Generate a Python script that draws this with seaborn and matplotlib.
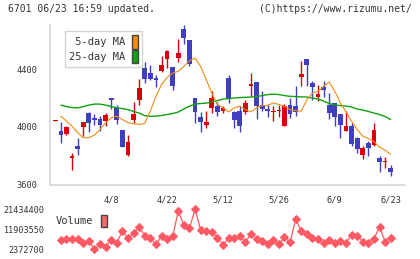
import numpy as np
import pandas as pd
import seaborn as sns
import matplotlib.pyplot as plt
from matplotlib.patches import Patch

# daily candles (first one has no volume / MA)
opens = [4040, 3974, 3947, 3781, 3864, 3997, 4097, 4062, 4055, 4039,
         4200, 4131, 3979, 3804, 4046, 4183, 4407, 4372, 4335, 4383,
         4466, 4416, 4473, 4678, 4602, 4202, 4071, 4014, 4128, 4142,
         4108, 4338, 4103, 4112, 4103, 4280, 4310, 4154, 4126, 4103,
         4108, 4004, 4154, 4147, 4342, 4471, 4303, 4204, 4273, 4154,
         4166, 4085, 3974, 4002, 3919, 3804, 3885, 3873, 3781, 3756, 3712]
highs = [4050, 4034, 4004, 3818, 3919, 4032, 4103, 4090, 4078, 4094,
         4200, 4154, 3979, 3940, 4172, 4331, 4448, 4428, 4361, 4492,
         4533, 4416, 4609, 4706, 4602, 4202, 4101, 4112, 4246, 4172,
         4142, 4361, 4110, 4142, 4188, 4375, 4310, 4250, 4161, 4142,
         4154, 4161, 4200, 4280, 4457, 4471, 4319, 4292, 4319, 4237,
         4166, 4085, 4112, 4028, 3928, 3866, 3901, 4023, 3797, 3790, 3735]
lows = [4040, 3885, 3940, 3701, 3804, 3935, 3963, 4014, 3974, 4007,
        4126, 4016, 3862, 3797, 4028, 4154, 4303, 4326, 4273, 4376,
        4407, 4257, 4448, 4572, 4418, 4023, 3963, 3990, 4094, 4073,
        4094, 4166, 3990, 3963, 4090, 4216, 4055, 4112, 4066, 4039,
        4066, 4004, 4062, 4073, 4280, 4280, 4183, 4177, 4204, 4057,
        4004, 3919, 3970, 3866, 3821, 3774, 3795, 3866, 3687, 3712, 3657]
closes = [4050, 3942, 3995, 3795, 3845, 4032, 4025, 4046, 4011, 4083,
          4183, 4046, 3862, 3897, 4087, 4269, 4331, 4331, 4324, 4430,
          4526, 4285, 4510, 4618, 4437, 4101, 4032, 4032, 4202, 4101,
          4131, 4195, 4046, 4004, 4166, 4299, 4142, 4124, 4108, 4112,
          4119, 4147, 4090, 4103, 4366, 4430, 4273, 4230, 4252, 4094,
          4066, 4011, 4002, 3878, 3843, 3855, 3855, 3981, 3756, 3763, 3687]

ma5 = [4073, 4039, 4004, 3959, 3924, 3924, 3942, 3981, 4028, 4062,
       4073, 4050, 4028, 4021, 4016, 4023, 4108, 4211, 4292, 4342,
       4372, 4384, 4418, 4457, 4476, 4418, 4326, 4234, 4154, 4131,
       4103, 4131, 4142, 4119, 4103, 4131, 4147, 4147, 4166, 4154,
       4142, 4119, 4112, 4108, 4188, 4234, 4246, 4280, 4310, 4246,
       4166, 4103, 4039, 3981, 3935, 3919, 3897, 3859, 3837, 3809]
ma25 = [4150, 4140, 4133, 4131, 4140, 4150, 4157, 4157, 4150, 4140,
        4131, 4126, 4119, 4106, 4095, 4077, 4073, 4073, 4078, 4085,
        4092, 4102, 4123, 4143, 4157, 4161, 4164, 4172, 4181, 4192,
        4195, 4200, 4202, 4204, 4206, 4209, 4216, 4223, 4226, 4223,
        4216, 4211, 4209, 4207, 4206, 4199, 4192, 4178, 4161, 4150,
        4147, 4143, 4137, 4123, 4116, 4106, 4095, 4085, 4071, 4050]
volume = [6.80, 7.28, 7.28, 7.14, 5.23, 6.33, 2.3727, 4.76, 3.61, 6.80,
          5.52, 11.09, 7.61, 10.00, 12.86, 8.85, 7.61, 4.76, 8.57, 7.28,
          8.57, 20.62, 13.95, 12.38, 21.4344, 11.57, 11.09, 10.47, 7.90, 4.42,
          7.61, 7.61, 8.57, 5.99, 9.52, 7.28, 6.33, 4.76, 6.80, 4.76,
          8.09, 5.71, 16.81, 11.09, 9.52, 7.61, 7.14, 5.23, 6.80, 5.23,
          6.47, 5.52, 9.19, 8.85, 5.99, 5.23, 7.28, 13.14, 5.99, 7.61]
volume = [v * 1e6 for v in volume]

date_labels = ["4/8", "4/22", "5/12", "5/26", "6/9", "6/23"]
date_pos = [10, 20, 30, 40, 50, 60]
price_ticks = [3600, 4000, 4400]
vol_ticks = [2372700, 11903550, 21434400]

RED = "#d8000c"
BLUE = "#3f3fbf"
ORANGE = "#f08c10"
GREEN = "#10a010"
VOLC = "#ff5a64"
AXC = "#d4d4d4"
TXT = "#333333"

sns.set_style("white")
plt.rcParams["font.family"] = ["DejaVu Sans Mono"]

W, H = 420, 259
fig = plt.figure(figsize=(W / 100, H / 100), dpi=100)
ax = fig.add_axes([50 / W, 1 - 184.5 / H, 355 / W, (184.5 - 25) / H])
ax2 = fig.add_axes([50 / W, 1 - 249.3 / H, 355 / W, 40 / H])

df = pd.DataFrame({"day": np.arange(len(opens)), "open": opens, "high": highs,
                   "low": lows, "close": closes})
up = df["close"] >= df["open"]
cols = np.where(up, RED, BLUE)
ax.vlines(df["day"], df["low"], df["high"], colors=cols, lw=1, zorder=2)
body = (df["close"] - df["open"]).abs().clip(lower=8)
ax.bar(df["day"], body, bottom=df[["open", "close"]].min(axis=1), width=0.85,
       color=cols, linewidth=0, zorder=3)

ma = pd.DataFrame({"day": np.arange(1, 61), "ma5": ma5, "ma25": ma25,
                   "volume": volume})
sns.lineplot(data=ma, x="day", y="ma25", color=GREEN, lw=1, ax=ax, zorder=4)
sns.lineplot(data=ma, x="day", y="ma5", color=ORANGE, lw=0.8, ax=ax, zorder=5)

xmin, xmax = -0.95, 62.56
ax.set_xlim(xmin, xmax)
ax.set_ylim(3600, 4705)
ax.set_xticks(np.linspace(xmin, xmax, 12))
ax.set_xticklabels([])
ax.set_xticks(date_pos, date_labels, minor=True)
ax.set_yticks(price_ticks, [str(t) for t in price_ticks])
ax.set_xlabel("")
ax.set_ylabel("")
for s in ["top", "right"]:
    ax.spines[s].set_visible(False)
for s in ["left", "bottom"]:
    ax.spines[s].set_color(AXC)
    ax.spines[s].set_linewidth(1.2)
ax.tick_params(axis="x", which="major", direction="inout", length=4,
               width=1.2, color=AXC)
ax.tick_params(axis="x", which="minor", length=0, pad=8, labelsize=6.2,
               labelcolor=TXT)
ax.tick_params(axis="y", direction="inout", length=6, width=1.2, color=AXC,
               pad=6, labelsize=6.2, labelcolor=TXT)

leg = ax.legend([Patch(facecolor=ORANGE, edgecolor="#444444", lw=1),
                 Patch(facecolor=GREEN, edgecolor="#444444", lw=1)],
                [" 5-day MA", "25-day MA"], loc="upper left",
                bbox_to_anchor=(65 / W, 1 - 31 / H), bbox_transform=fig.transFigure,
                markerfirst=False, fancybox=False, edgecolor=AXC, framealpha=1,
                fontsize=7.5, handlelength=0.6, handleheight=1.6,
                handletextpad=0.6, borderpad=0.4, labelspacing=0.1,
                borderaxespad=0)
for t in leg.get_texts():
    t.set_color(TXT)

sns.lineplot(data=ma, x="day", y="volume", color=VOLC, lw=0.9, marker="D",
             markersize=4.5, markeredgecolor=VOLC, ax=ax2)
for ln in ax2.lines:
    ln.set_clip_on(False)
ax2.set_xlim(xmin, xmax)
ax2.set_ylim(vol_ticks[0], vol_ticks[-1])
ax2.set_xticks([])
ax2.set_yticks(vol_ticks, [str(t) for t in vol_ticks])
ax2.set_xlabel("")
ax2.set_ylabel("")
ax2.patch.set_alpha(0)
for s in ax2.spines.values():
    s.set_visible(False)
ax2.tick_params(axis="y", length=0, pad=4, labelsize=6.1, labelcolor=TXT)

leg2 = ax2.legend([Patch(facecolor="#ff6464", edgecolor="#444444", lw=1)],
                  ["Volume"], loc="center left",
                  bbox_to_anchor=(56 / W, 1 - 221 / H),
                  bbox_transform=fig.transFigure, frameon=False,
                  markerfirst=False, fontsize=7.5, handlelength=0.6,
                  handleheight=1.5, handletextpad=0.7, borderpad=0,
                  borderaxespad=0)
for t in leg2.get_texts():
    t.set_color(TXT)

fig.text(8 / W, 1 - 9 / H, "6701 06/23 16:59 updated.", fontsize=7.0,
         color=TXT, va="center", ha="left")
fig.text(412 / W, 1 - 9 / H, "(C)https://www.rizumu.net/", fontsize=7.0,
         color=TXT, va="center", ha="right")

fig.savefig("out.png", dpi=100, facecolor="white")
